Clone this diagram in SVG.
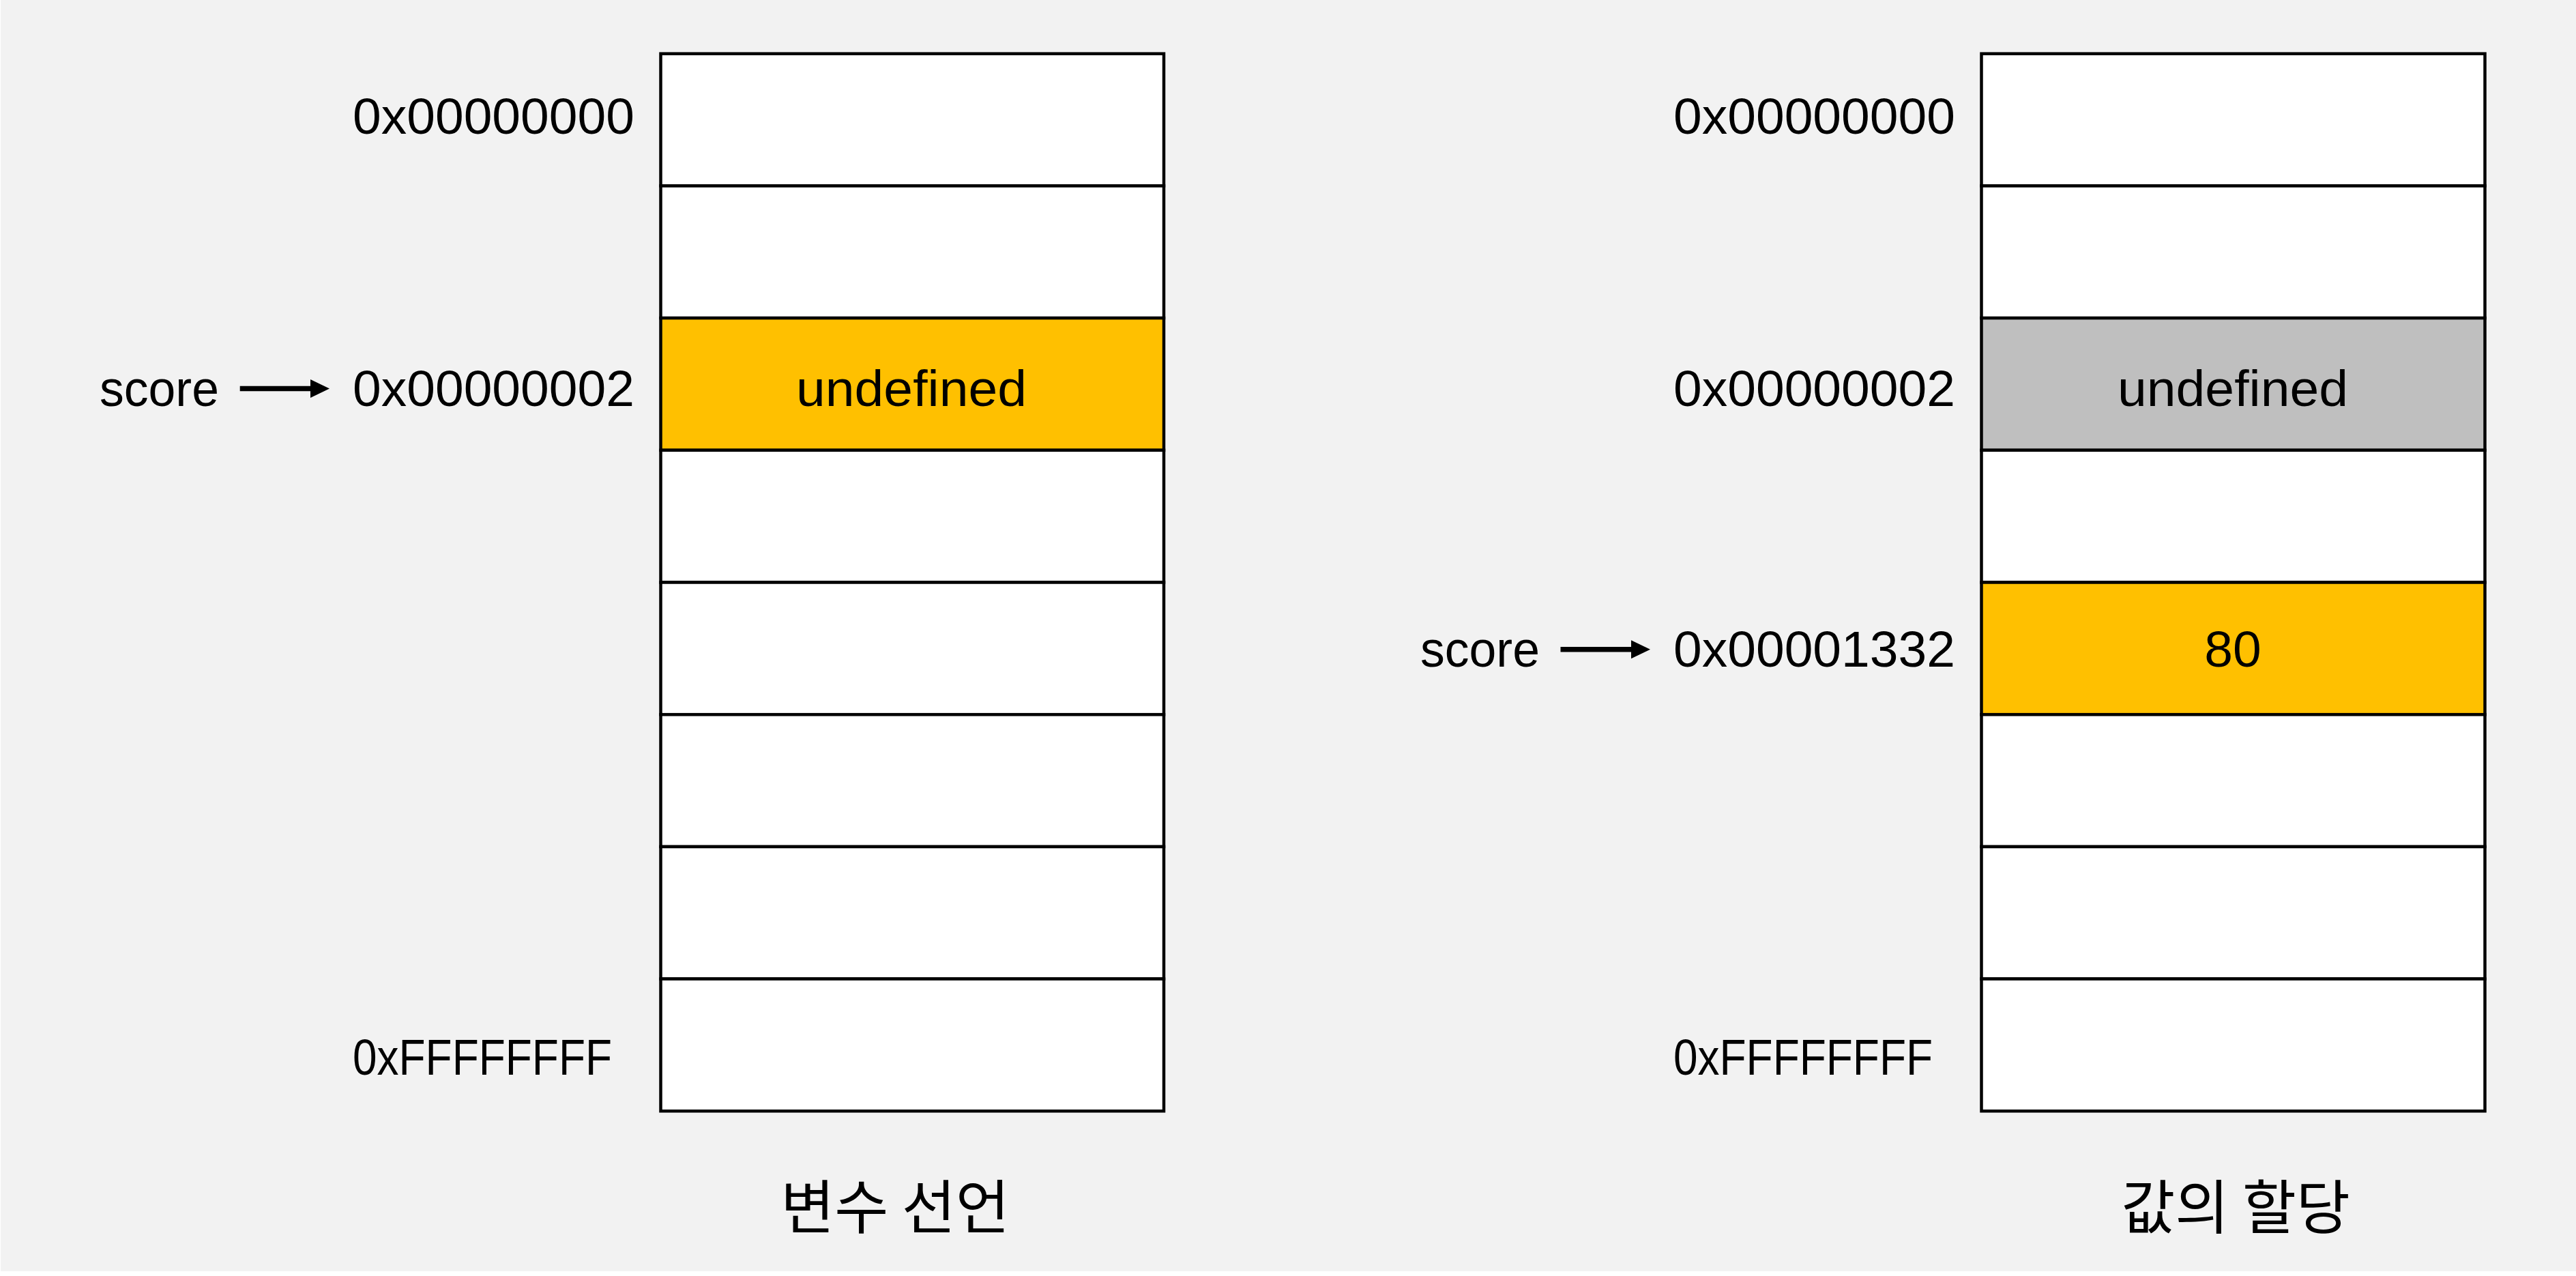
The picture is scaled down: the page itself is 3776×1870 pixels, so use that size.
<svg xmlns="http://www.w3.org/2000/svg" width="3776" height="1870" viewBox="0 0 3776 1870">
  <style>
    .cell { fill: #FFFFFF; stroke: #000000; stroke-width: 4.5; }
    .hl { fill: #FFC000; }
    .old { fill: #BFBFBF; }
    .lbl { font-family: "Liberation Sans", Arial, sans-serif; font-size: 75px; fill: #000000; }
    .mid { text-anchor: middle; }
    .ttl { font-family: "Noto Sans CJK KR", "Noto Sans", sans-serif; font-size: 86px; fill: #000000; text-anchor: middle; }
    .conn { stroke: #000000; stroke-width: 7.5; fill: none; }
  </style>
  <defs>
    <marker id="ah" markerUnits="userSpaceOnUse" markerWidth="28" markerHeight="27" refX="5" refY="13.5" orient="auto">
      <path d="M0,0 L28,13.5 L0,27 Z" fill="#000000"/>
    </marker>
  </defs>
  <rect x="0" y="0" width="3776" height="1870" fill="#FFFFFF"/>
  <rect x="1" y="0" width="3775" height="1863" fill="#F2F2F2"/>

  <!-- Left column: 변수 선언 -->
  <g id="left-memory">
    <g id="L0"><rect class="cell" x="968.5" y="78.7" width="737.5" height="193.7"/></g>
    <g id="L1"><rect class="cell" x="968.5" y="272.4" width="737.5" height="193.7"/></g>
    <g id="L2"><rect class="cell hl" x="968.5" y="466.1" width="737.5" height="193.7"/><text class="lbl mid" x="1336" y="595" textLength="338" lengthAdjust="spacingAndGlyphs">undefined</text></g>
    <g id="L3"><rect class="cell" x="968.5" y="659.8" width="737.5" height="193.7"/></g>
    <g id="L4"><rect class="cell" x="968.5" y="853.5" width="737.5" height="193.7"/></g>
    <g id="L5"><rect class="cell" x="968.5" y="1047.2" width="737.5" height="193.7"/></g>
    <g id="L6"><rect class="cell" x="968.5" y="1240.9" width="737.5" height="193.7"/></g>
    <g id="L7"><rect class="cell" x="968.5" y="1434.6" width="737.5" height="193.7"/></g>
  </g>
  <g id="left-labels">
    <text class="lbl" x="517" y="196">0x00000000</text>
    <text class="lbl" x="517" y="595">0x00000002</text>
    <text class="lbl" x="517" y="1574.5" textLength="380" lengthAdjust="spacingAndGlyphs">0xFFFFFFFF</text>
    <text class="lbl" x="146" y="595" textLength="175" lengthAdjust="spacingAndGlyphs">score</text>
  </g>
  <g id="left-title"><text class="ttl" x="1312" y="1801">변수 선언</text></g>

  <!-- Right column: 값의 할당 -->
  <g id="right-memory">
    <g id="R0"><rect class="cell" x="2904.5" y="78.7" width="738" height="193.7"/></g>
    <g id="R1"><rect class="cell" x="2904.5" y="272.4" width="738" height="193.7"/></g>
    <g id="R2"><rect class="cell old" x="2904.5" y="466.1" width="738" height="193.7"/><text class="lbl mid" x="3273" y="595" textLength="338" lengthAdjust="spacingAndGlyphs">undefined</text></g>
    <g id="R3"><rect class="cell" x="2904.5" y="659.8" width="738" height="193.7"/></g>
    <g id="R4"><rect class="cell hl" x="2904.5" y="853.5" width="738" height="193.7"/><text class="lbl mid" x="3273" y="977">80</text></g>
    <g id="R5"><rect class="cell" x="2904.5" y="1047.2" width="738" height="193.7"/></g>
    <g id="R6"><rect class="cell" x="2904.5" y="1240.9" width="738" height="193.7"/></g>
    <g id="R7"><rect class="cell" x="2904.5" y="1434.6" width="738" height="193.7"/></g>
  </g>
  <g id="right-labels">
    <text class="lbl" x="2453" y="196">0x00000000</text>
    <text class="lbl" x="2453" y="595">0x00000002</text>
    <text class="lbl" x="2453" y="977">0x00001332</text>
    <text class="lbl" x="2453" y="1574.5" textLength="380" lengthAdjust="spacingAndGlyphs">0xFFFFFFFF</text>
    <text class="lbl" x="2082" y="977" textLength="175" lengthAdjust="spacingAndGlyphs">score</text>
  </g>
  <g id="right-title"><text class="ttl" x="3277" y="1801">값의 할당</text></g>

  <g id="connectors">
    <line class="conn" x1="351.7" y1="569.5" x2="460" y2="569.5" marker-end="url(#ah)"/>
    <line class="conn" x1="2287.5" y1="951.7" x2="2396" y2="951.7" marker-end="url(#ah)"/>
  </g>
</svg>
